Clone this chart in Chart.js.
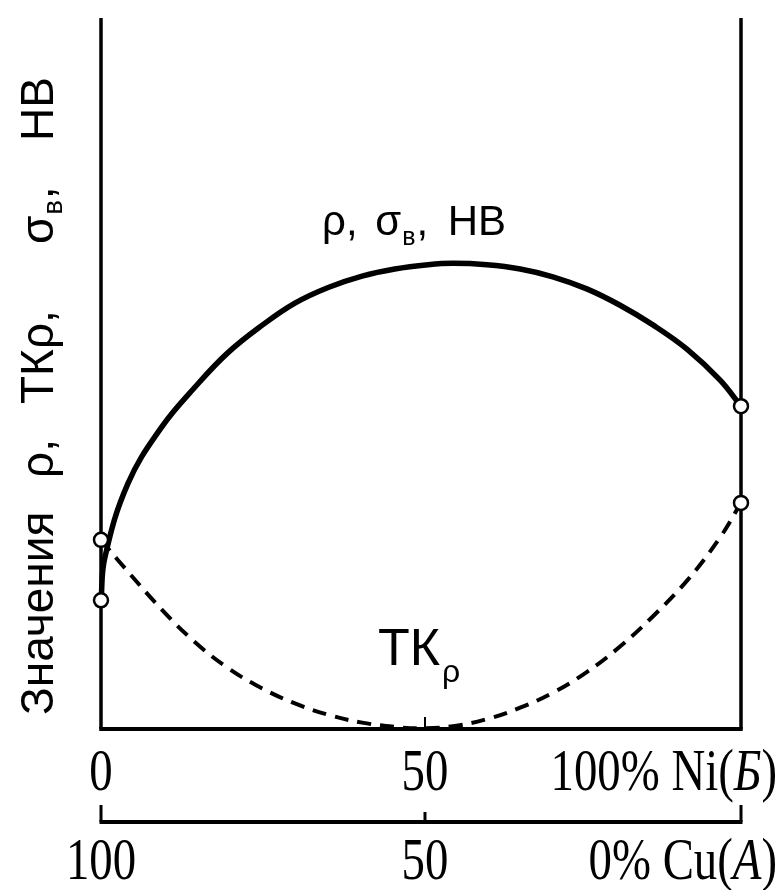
<!DOCTYPE html>
<html><head><meta charset="utf-8">
<script src="https://cdn.jsdelivr.net/npm/chart.js@4"></script>
<style>html,body{margin:0;padding:0;background:#fff}#wrap{width:780px;height:890px}</style>
</head><body><div id="wrap"><canvas id="c" width="780" height="890"></canvas></div>
<script>
// Composition, % Ni (Б); Cu (A) = 100 - Ni
const niPercent = [0, 0.6, 4.2, 9.5, 14.7, 19.8, 25.2, 30.3, 35.5, 40.8, 45.9, 51.1, 55, 60.3, 65.5, 70.6, 75.9, 81.1, 86.3, 91.6, 96.7, 100];
// ρ, σв, HB (relative values)
const rhoValues = [18.1, 24.1, 34.5, 42.5, 48.1, 52.9, 56.8, 59.9, 62.1, 63.7, 64.7, 65.3, 65.5, 65.3, 64.7, 63.6, 61.9, 59.6, 56.8, 53.4, 49.1, 45.4];
// TKρ (relative values)
const tkNiPercent = [0, 2.7, 9.5, 14.7, 19.8, 25.2, 30.3, 35.5, 40.8, 45.9, 50, 55, 60.3, 65.5, 70.6, 75.9, 81.1, 86.3, 91.6, 96.7, 100];
const tkValues = [26.6, 23.7, 16.8, 12.2, 8.6, 5.7, 3.6, 2.0, 0.9, 0.3, 0.1, 0.4, 1.4, 3.0, 5.1, 8.0, 11.6, 15.9, 20.9, 26.9, 31.8];
// tick labels
const niTicks = [0, 50, 100];
const niTickLabels = ['0', '50', '100% Ni(Б)'];
const cuTicks = [100, 50, 0];
const cuTickLabels = ['100', '50', '0% Cu(A)'];

const toXY = (xs, ys) => xs.map((x, i) => ({x: x, y: ys[i]}));
const endPointRadius = (ctx) => {
  const n = ctx.dataset.data.length;
  return (ctx.dataIndex === 0 || ctx.dataIndex === n - 1) ? 7 : 0;
};

function drawCondensed(ctx, text, x, y, align, size, sx) {
  const m = text.match(/^(.*\()(.)(\))$/);
  const parts = m ? [[m[1], false], [m[2], true], [m[3], false]] : [[text, false]];
  const fontN = size + 'px "Liberation Serif", serif';
  const fontI = 'italic ' + size + 'px "Liberation Serif", serif';
  let total = 0;
  parts.forEach(p => { ctx.font = p[1] ? fontI : fontN; total += ctx.measureText(p[0]).width; });
  let start = align === 'center' ? -total / 2 : (align === 'right' ? -total : 0);
  ctx.save();
  ctx.translate(x, y);
  ctx.scale(sx, 1);
  ctx.textAlign = 'left';
  ctx.textBaseline = 'alphabetic';
  let cx = start;
  parts.forEach(p => { ctx.font = p[1] ? fontI : fontN; ctx.fillText(p[0], cx, 0); cx += ctx.measureText(p[0]).width; });
  ctx.restore();
}

const framePlugin = {
  id: 'frame',
  beforeDatasetsDraw(chart) {
    const {ctx, chartArea: a, scales: {x}} = chart;
    ctx.save();
    ctx.strokeStyle = '#000';
    ctx.lineCap = 'butt';
    ctx.lineWidth = 3.5;
    ctx.beginPath();
    ctx.moveTo(a.left, a.top); ctx.lineTo(a.left, a.bottom);
    ctx.moveTo(a.right, a.top); ctx.lineTo(a.right, a.bottom);
    ctx.stroke();
    ctx.lineWidth = 4;
    ctx.beginPath();
    ctx.moveTo(a.left - 1.75, a.bottom); ctx.lineTo(a.right + 1.75, a.bottom);
    ctx.stroke();
    ctx.lineWidth = 2;
    ctx.beginPath();
    ctx.moveTo(x.getPixelForValue(50) + 4, a.bottom); ctx.lineTo(x.getPixelForValue(50) + 4, a.bottom - 12);
    ctx.stroke();
    ctx.restore();
  },
  afterDraw(chart) {
    const {ctx, chartArea: a, scales: {x}} = chart;
    ctx.save();
    ctx.fillStyle = '#000';
    ctx.strokeStyle = '#000';
    niTicks.forEach((v, i) => {
      const px = x.getPixelForValue(v);
      if (i === niTicks.length - 1) drawCondensed(ctx, niTickLabels[i], px + 36, a.bottom + 61, 'right', 60, 0.78);
      else drawCondensed(ctx, niTickLabels[i], px + (i === 1 ? 4 : 0), a.bottom + 61, 'center', 60, 0.78);
    });
    const yAx = a.bottom + 93;
    ctx.lineWidth = 4;
    ctx.beginPath();
    ctx.moveTo(a.left - 1.5, yAx); ctx.lineTo(a.right + 1.5, yAx);
    ctx.stroke();
    ctx.lineWidth = 3;
    cuTicks.forEach((c, i) => {
      const px = x.getPixelForValue(100 - c) + (c === 50 ? 4 : 0);
      const len = (c === 50) ? 10 : 17;
      ctx.beginPath();
      ctx.moveTo(px, yAx); ctx.lineTo(px, yAx - len);
      ctx.stroke();
      if (i === cuTicks.length - 1) drawCondensed(ctx, cuTickLabels[i], px + 36, yAx + 57, 'right', 60, 0.78);
      else drawCondensed(ctx, cuTickLabels[i], px, yAx + 57, 'center', 60, 0.78);
    });
    ctx.save();
    ctx.translate(53, 0);
    ctx.rotate(-Math.PI / 2);
    ctx.textAlign = 'left';
    ctx.textBaseline = 'alphabetic';
    const tf = '46px "Liberation Sans", Arial, sans-serif';
    const sf = '27px "Liberation Sans", Arial, sans-serif';
    ctx.font = tf; ctx.fillText('Значения', -715, 0);
    ctx.fillText('ρ,', -478, 0);
    ctx.fillText('ТКρ,', -404, 0);
    ctx.fillText('σ', -244, 0);
    let w = ctx.measureText('σ').width;
    ctx.font = sf; ctx.fillText('в', -244 + w + 1, 9);
    let w2 = ctx.measureText('в').width;
    ctx.font = tf; ctx.fillText(',', -244 + w + w2 + 2, 0);
    ctx.fillText('НВ', -141, 0);
    ctx.restore();
    ctx.textAlign = 'left';
    ctx.textBaseline = 'alphabetic';
    const af = '42px "Liberation Sans", Arial, sans-serif';
    const asf = '25px "Liberation Sans", Arial, sans-serif';
    let cx = 322;
    ctx.font = af; ctx.fillText('ρ,', cx, 235); cx += ctx.measureText('ρ, ').width + 6;
    ctx.fillText('σ', cx, 235); cx += ctx.measureText('σ').width + 1;
    ctx.font = asf; ctx.fillText('в', cx, 245); cx += ctx.measureText('в').width + 1;
    ctx.font = af; ctx.fillText(',', cx, 235); cx += ctx.measureText(', ').width + 8;
    ctx.fillText('НВ', cx, 235);
    cx = 378;
    ctx.font = '52px "Liberation Sans", Arial, sans-serif';
    ctx.fillText('ТК', cx, 665); cx += ctx.measureText('ТК').width + 2;
    ctx.font = '32px "Liberation Sans", Arial, sans-serif';
    ctx.fillText('ρ', cx, 682);
    ctx.restore();
  }
};

new Chart(document.getElementById('c'), {
  type: 'line',
  data: {
    datasets: [
      {
        label: 'TKρ',
        data: toXY(tkNiPercent, tkValues),
        borderColor: '#000',
        borderWidth: 4,
        borderDash: [14, 9],
        tension: 0.4,
        pointRadius: endPointRadius,
        pointBackgroundColor: '#fff',
        pointBorderColor: '#000',
        pointBorderWidth: 2.5,
        clip: false,
        fill: false
      },
      {
        label: 'ρ, σв, HB',
        data: toXY(niPercent, rhoValues),
        borderColor: '#000',
        borderWidth: 5.5,
        tension: 0.4,
        pointRadius: endPointRadius,
        pointBackgroundColor: '#fff',
        pointBorderColor: '#000',
        pointBorderWidth: 2.5,
        clip: false,
        fill: false
      }
    ]
  },
  options: {
    responsive: false,
    animation: false,
    layout: {padding: {left: 101, right: 39, top: 18, bottom: 161}},
    scales: {
      x: {type: 'linear', min: 0, max: 100, display: false},
      y: {min: 0, max: 100, display: false}
    },
    plugins: {legend: {display: false}, tooltip: {enabled: false}}
  },
  plugins: [framePlugin]
});
</script>
</body></html>
